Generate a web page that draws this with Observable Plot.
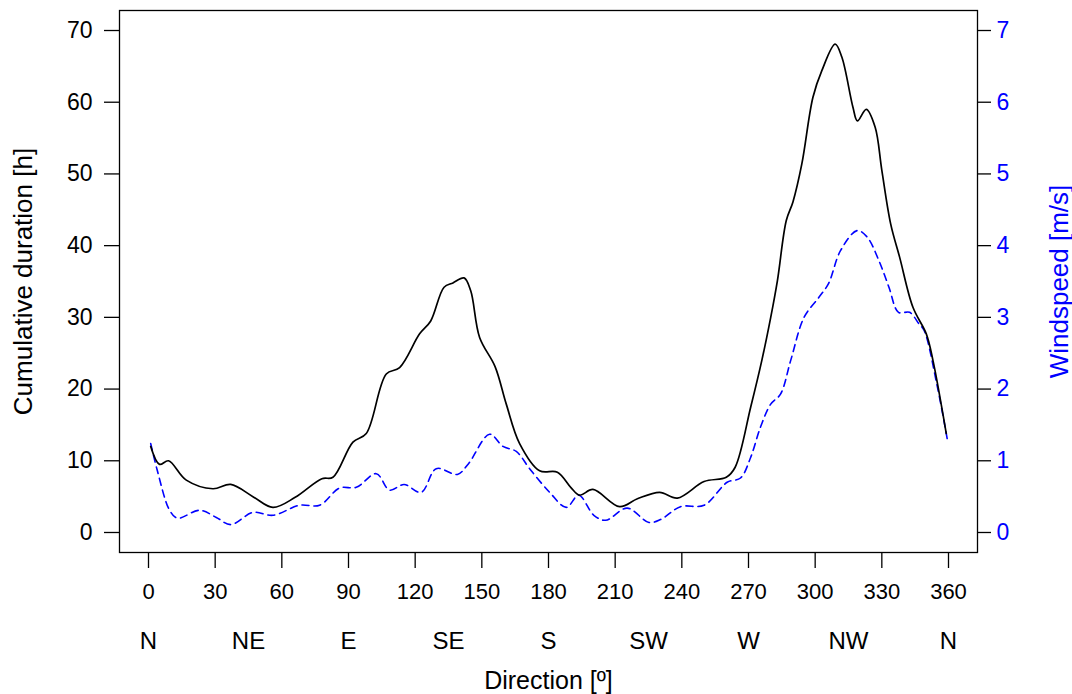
<!DOCTYPE html>
<html><head><meta charset="utf-8">
<script src="https://cdn.jsdelivr.net/npm/d3@7"></script>
<script src="https://cdn.jsdelivr.net/npm/@observablehq/plot@0.6"></script>
<style>
body{margin:0;background:#fff}
svg{font-family:"Liberation Sans",Arial,Helvetica,sans-serif}
</style>
</head><body><div id="chart"></div>
<script>
const durationDeg = [1,5,9,17,29,37,47,56,66,78,83,92,98,107,113,122,127,133,137,142,145,149,156,161,167,176,184,190,194,200,212,220,230,238,250,260,264,271,276,280,283,287,290,294,299,303,309,312,317,319,323,327,330,334,338,344,350,353,359];
const durationHours = [12.0,9.5,10.0,7.3,6.1,6.7,5.0,3.5,4.9,7.5,7.7,12.6,13.8,22.1,23.0,27.7,29.5,34.2,34.8,35.5,33.7,27.2,23.1,17.9,12.4,8.6,8.4,6.3,5.2,6.0,3.6,4.7,5.6,4.8,7.1,7.7,9.1,17.5,24.0,30.0,35.1,43.5,46.1,51.4,60.7,64.4,68.1,66.3,59.3,57.4,59.0,56.5,50.5,43.0,38.4,31.4,27.7,24.0,13.8];
const windDeg = [1,4,9.5,13,23,30.5,37,47,56,68,77,86,93.5,102.5,108.5,115,122.7,129.5,139,144,153.5,159.5,165.5,171.5,180.5,188,193.6,200.4,205.7,215.4,225.2,230.4,239.4,250,260.4,266.4,271,275.4,280,284.4,289,295,301.7,306,311.4,318.9,323.4,328.7,333.2,337.5,342.5,346.7,349,355,359.4];
const windSpeed = [1.24,0.86,0.31,0.20,0.31,0.21,0.11,0.28,0.24,0.38,0.38,0.62,0.63,0.82,0.59,0.67,0.56,0.89,0.81,0.96,1.37,1.20,1.13,0.89,0.56,0.35,0.52,0.24,0.17,0.34,0.14,0.18,0.36,0.38,0.70,0.76,1.05,1.47,1.79,1.93,2.40,3.00,3.28,3.47,3.93,4.21,4.12,3.79,3.42,3.07,3.07,2.91,2.82,2.03,1.31];
const degreeTicks = [0,30,60,90,120,150,180,210,240,270,300,330,360];
const compassDeg = [0,45,90,135,180,225,270,315,360];
const compassNames = ["N","NE","E","SE","S","SW","W","NW","N"];
const durationTicks = [0,10,20,30,40,50,60,70];
const windTicks = [0,1,2,3,4,5,6,7];

const durationData = durationDeg.map((d,i)=>({deg:d, value:durationHours[i]}));
const windData = windDeg.map((d,i)=>({deg:d, value:windSpeed[i]*10}));

const plot = Plot.plot({
  width:1072, height:694,
  marginLeft:119, marginRight:95, marginTop:10, marginBottom:142,
  x:{domain:[-13.05,373.05]},
  y:{domain:[-2.79,72.79]},
  style:{fontSize:"24px", fontFamily:'"Liberation Sans",Arial,sans-serif', color:"black", background:"white"},
  marks:[
    Plot.frame({stroke:"black", strokeWidth:1.3}),
    Plot.axisX(degreeTicks,{tickSize:16, tickPadding:15, fontSize:22, label:null, strokeWidth:1.3}),
    Plot.axisX(compassDeg,{tickSize:0, tickPadding:79, fontSize:24, tickFormat:d=>compassNames[compassDeg.indexOf(d)], label:null}),
    Plot.axisX({ticks:[], tickSize:0, fontSize:25, label:"Direction [º]", labelAnchor:"center", labelOffset:136, labelArrow:"none"}),
    Plot.axisY(durationTicks,{tickSize:15, tickPadding:12, fontSize:23, strokeWidth:1.3, label:null}),
    Plot.axisY({ticks:[], tickSize:0, fontSize:26, label:"Cumulative duration [h]", labelAnchor:"center", labelOffset:106, labelArrow:"none"}),
    Plot.axisY(windTicks.map(d=>d*10),{anchor:"right", tickSize:13, tickPadding:6, fontSize:23, strokeWidth:1.3, stroke:"black", fill:"blue", tickFormat:d=>String(d/10), label:null}),
    Plot.axisY({anchor:"right", ticks:[], tickSize:0, fontSize:26, fill:"blue", label:"Windspeed [m/s]", labelAnchor:"center", labelOffset:90, labelArrow:"none"}),
    Plot.line(windData,{x:"deg", y:"value", stroke:"blue", strokeWidth:1.6, strokeDasharray:"7,5", curve:"catmull-rom"}),
    Plot.line(durationData,{x:"deg", y:"value", stroke:"black", strokeWidth:1.7, curve:"catmull-rom"})
  ]
});
document.getElementById("chart").appendChild(plot);
</script>
</body></html>
